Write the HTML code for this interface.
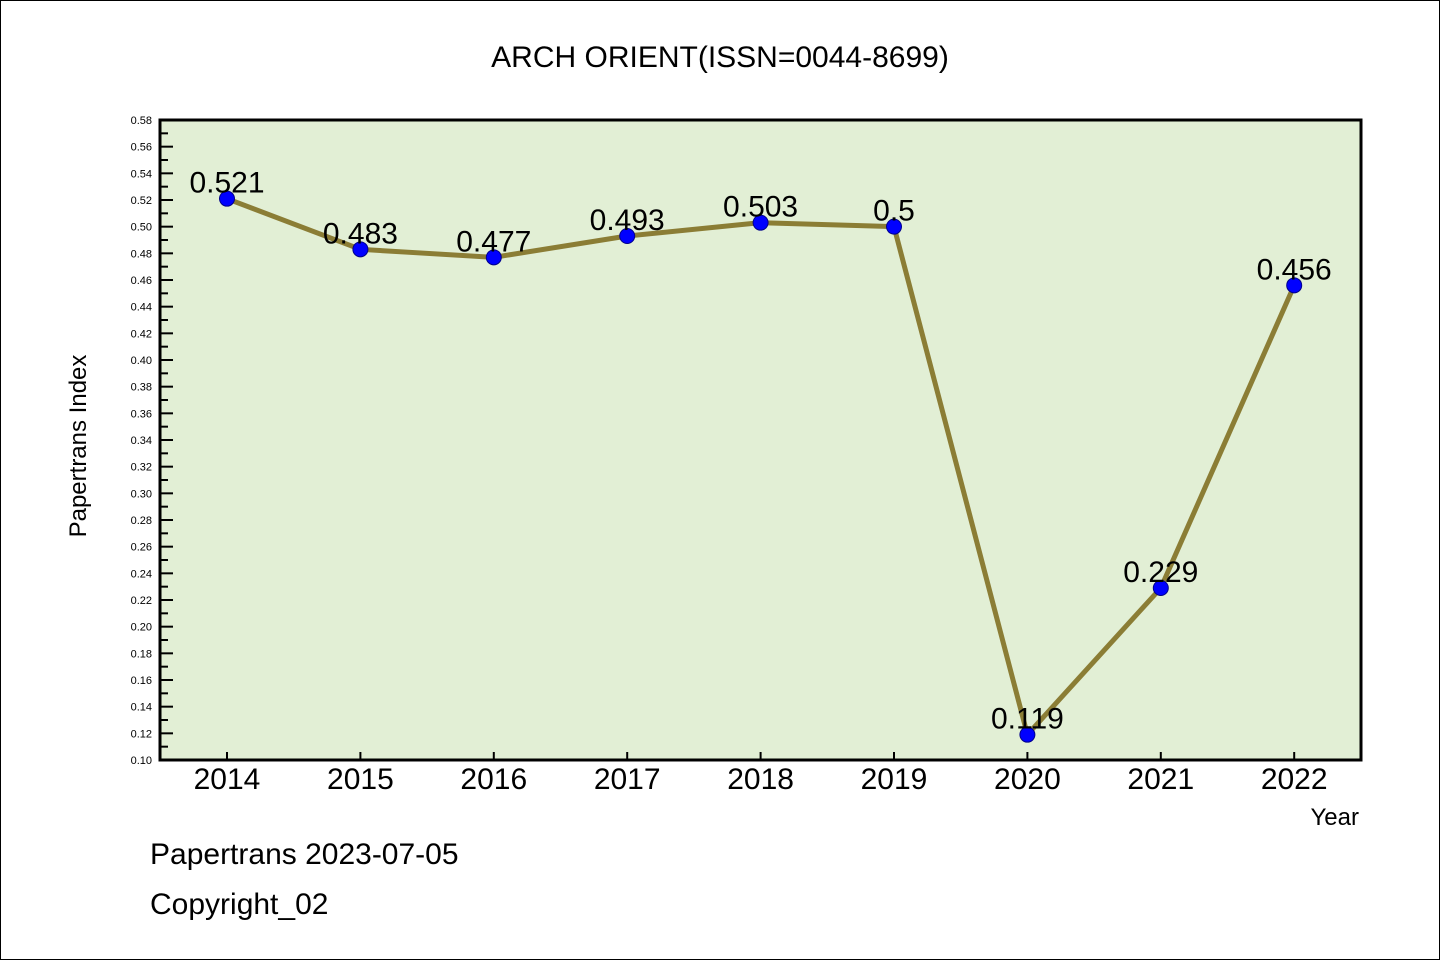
<!DOCTYPE html>
<html><head><meta charset="utf-8"><style>
body{margin:0;background:#fff}
svg text{font-family:"WenQuanYi Zen Hei","Liberation Sans",sans-serif}
</style></head><body>
<svg width="1440" height="960" viewBox="0 0 1440 960">
<rect x="0.5" y="0.5" width="1439" height="959" fill="#fff" stroke="#000"/>
<text x="720" y="67" font-size="30" text-anchor="middle">ARCH ORIENT(ISSN=0044-8699)</text>
<rect x="160" y="120" width="1201" height="640" fill="#e2efd5"/>
<g id="yticks"></g><g id="xticks"></g>
<rect x="160" y="120" width="1201" height="640" fill="none" stroke="#000" stroke-width="3"/>
<g id="series"></g>
<text x="86" y="446" font-size="24" text-anchor="middle" transform="rotate(-90 86 446)">Papertrans Index</text>
<text x="1359" y="825" font-size="24" text-anchor="end">Year</text>
<text x="150" y="864" font-size="30">Papertrans 2023-07-05</text>
<text x="150" y="914" font-size="30">Copyright_02</text>
</svg>
<script>
const years=["2014","2015","2016","2017","2018","2019","2020","2021","2022"];
const values=[0.521,0.483,0.477,0.493,0.503,0.5,0.119,0.229,0.456];
const valueLabels=["0.521","0.483","0.477","0.493","0.503","0.5","0.119","0.229","0.456"];
const yMin=0.10,yMax=0.58;
const NS="http://www.w3.org/2000/svg";
const X=i=>227+i*133.4;
const Y=v=>760-(v-yMin)/(yMax-yMin)*640;
function mk(t,a,p){const e=document.createElementNS(NS,t);for(const k in a)e.setAttribute(k,a[k]);p.appendChild(e);return e;}
const yt=document.getElementById('yticks');
for(let k=0;k<=48;k++){
 const v=yMin+k*0.01,y=Y(v),major=k%2==0;
 const l=mk('line',{x1:160,x2:major?173:168,y1:y,y2:y,stroke:'#000','stroke-width':2},yt);
 
 
 if(major){const t=mk('text',{x:152,y:y+4,'font-size':11,'text-anchor':'end'},yt);t.textContent=v.toFixed(2);
 
 }
}
const xt=document.getElementById('xticks');
years.forEach((yr,i)=>{
 const l=mk('line',{x1:X(i),x2:X(i),y1:760,y2:752,stroke:'#000','stroke-width':2},xt);
 
 
 const t=mk('text',{x:X(i),y:789,'font-size':30,'text-anchor':'middle'},xt);t.textContent=yr;
 
 
});
const s=document.getElementById('series');
const pl=mk('polyline',{points:values.map((v,i)=>X(i)+','+Y(v)).join(' '),fill:'none',stroke:'#8b7d35','stroke-width':5},s);


values.forEach((v,i)=>{
 const c=mk('circle',{cx:X(i),cy:Y(v),r:7.5,fill:'#0000ff',stroke:'#00008b','stroke-width':1},s);
 
 
 const t=mk('text',{x:X(i),y:Y(v)-6,'font-size':30,'text-anchor':'middle'},s);t.textContent=valueLabels[i];
 
 
});
</script>
</body></html>
